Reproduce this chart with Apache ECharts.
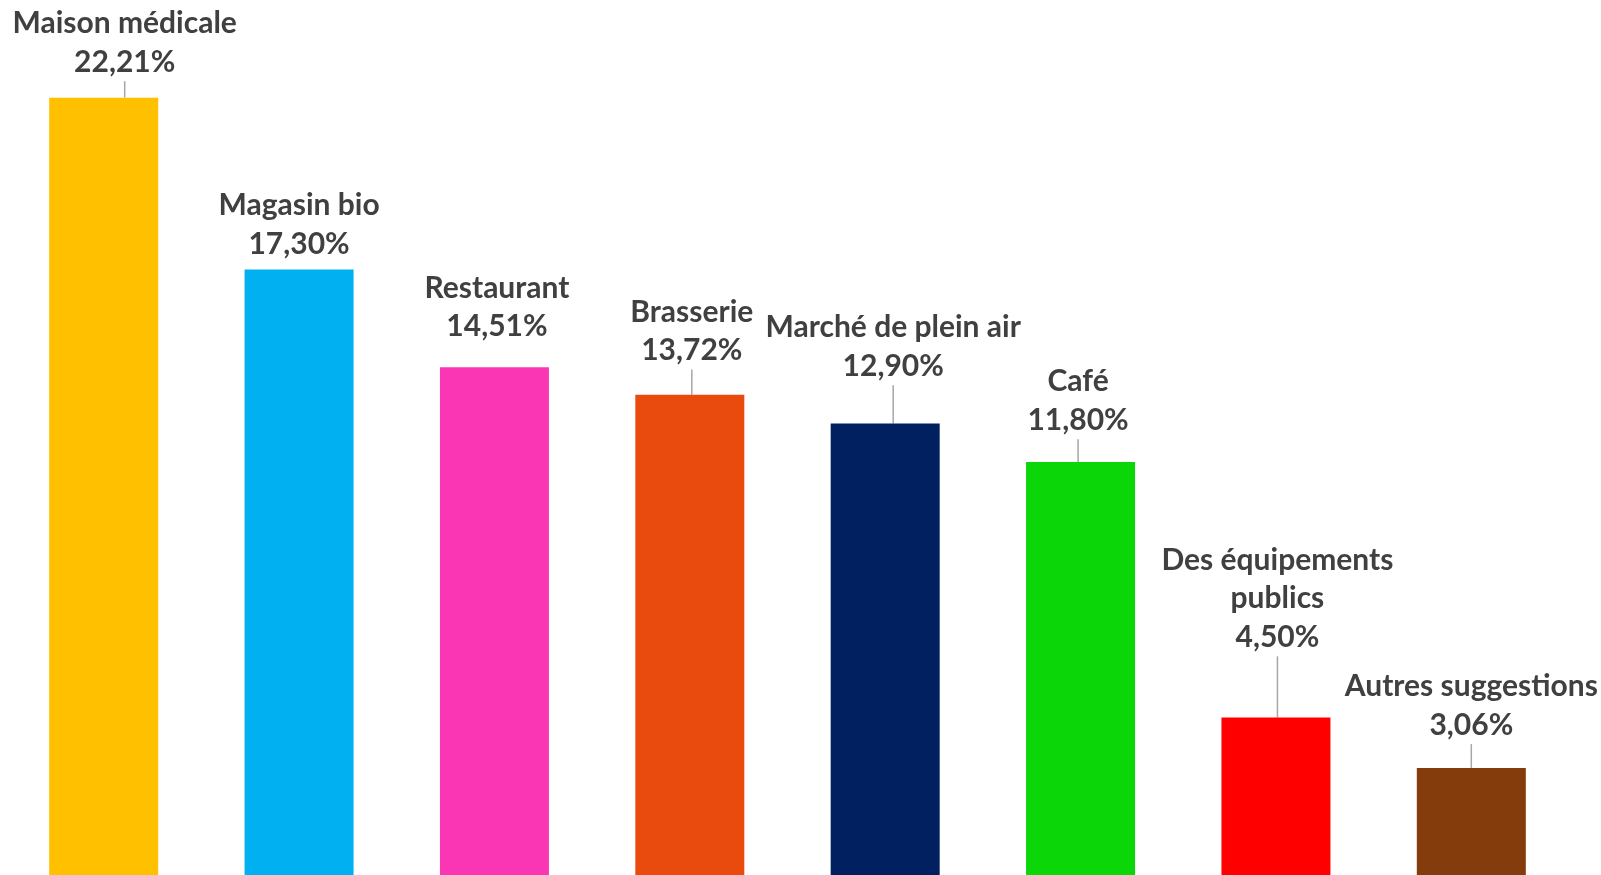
<!DOCTYPE html>
<html>
<head>
<meta charset="utf-8">
<script src="https://cdn.jsdelivr.net/npm/echarts@6/dist/echarts.min.js"></script>
<style>
html,body{margin:0;padding:0;background:#fff;}
#chart{width:1601px;height:875px;}
</style>
</head>
<body>
<div id="chart"></div>
<script>
const categories = ["Maison médicale", "Magasin bio", "Restaurant", "Brasserie", "Marché de plein air", "Café", "Des équipements\npublics", "Autres suggestions"];
const values = [22.21, 17.30, 14.51, 13.72, 12.90, 11.80, 4.50, 3.06];
const colors = ["#FFC000", "#00B0F0", "#FB36B5", "#E94A0E", "#002060", "#0BD608", "#FF0000", "#843C0C"];
const showLeader = [true, false, false, true, true, true, true, true];
// label offsets (dx, dy) relative to the default 'top' position
const labelOffsets = [[21, -16.5], [0, -6.3], [2.5, -21.3], [2, -25.2], [8, -38.2], [-2.5, -22.8], [1.5, -61.2], [0, -23.8]];

const fmt = v => v.toFixed(2).replace('.', ',') + '%';

const chart = echarts.init(document.getElementById('chart'));
chart.setOption({
  animation: false,
  grid: {left: 6, right: 32, top: 0, bottom: 0, containLabel: false},
  xAxis: {
    type: 'category', data: categories,
    axisLine: {show: false}, axisTick: {show: false}, axisLabel: {show: false}
  },
  yAxis: {type: 'value', min: 0, max: 25, show: false, splitLine: {show: false}},
  series: [{
    type: 'bar',
    barWidth: 109,
    data: values.map((v, i) => ({
      value: v,
      itemStyle: {color: colors[i]},
      labelLine: {show: showLeader[i]}
    })),
    label: {
      show: true,
      position: 'top',
      distance: 0,
      color: '#404040',
      fontFamily: 'Lato',
      fontWeight: 'bold',
      fontSize: 30,
      lineHeight: 38.5,
      formatter: p => categories[p.dataIndex] + '\n' + fmt(p.value)
    },
    labelLine: {show: true, lineStyle: {color: '#A6A6A6', width: 1.5}},
    labelLayout: p => ({dx: labelOffsets[p.dataIndex][0], dy: labelOffsets[p.dataIndex][1]})
  }]
});
</script>
</body>
</html>
